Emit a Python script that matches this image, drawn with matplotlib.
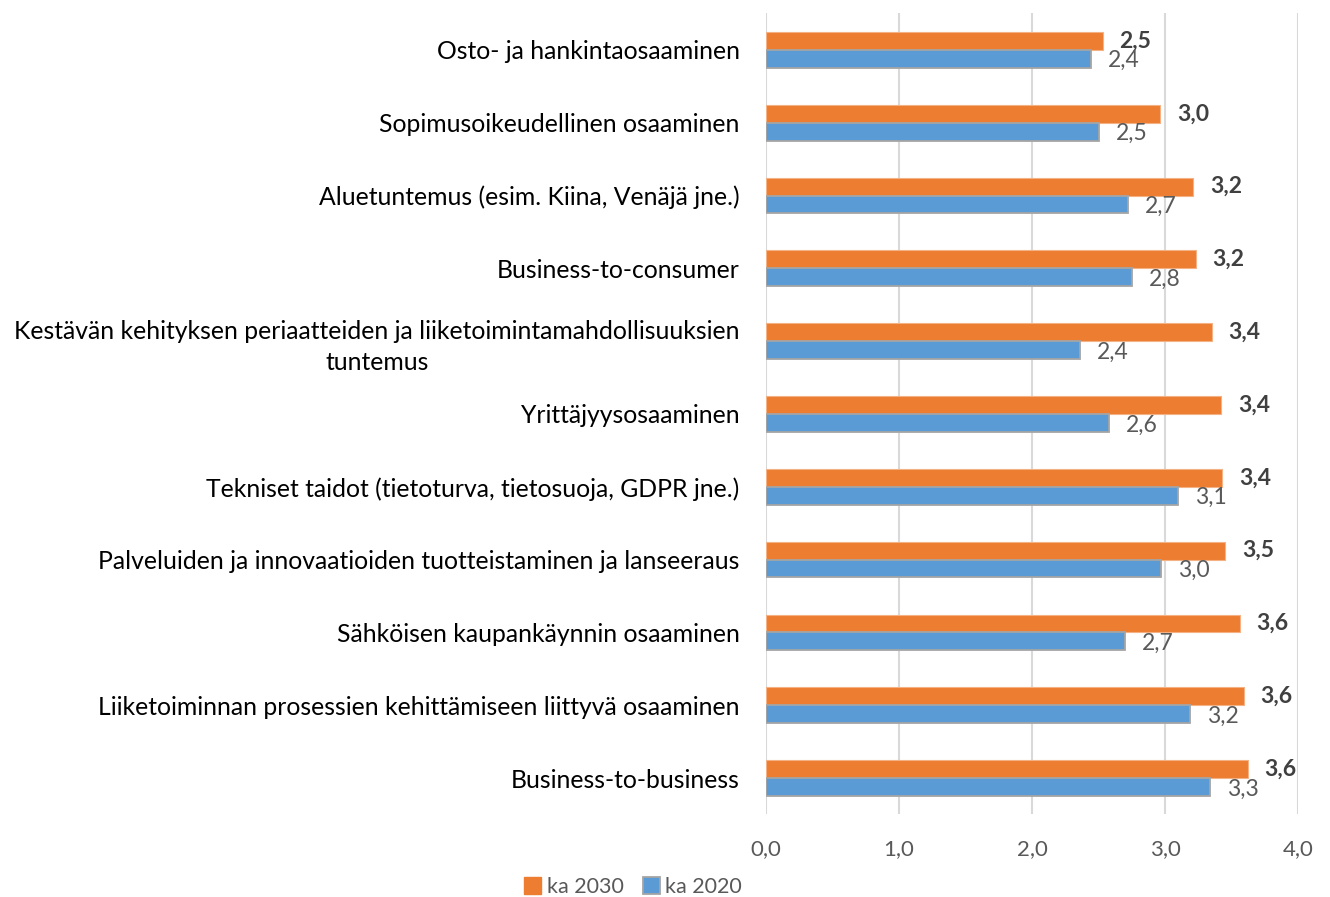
import numpy as np
import matplotlib.pyplot as plt
from matplotlib.patches import Patch

# ---------------- DATA ----------------
categories = [
    "Osto- ja hankintaosaaminen",
    "Sopimusoikeudellinen osaaminen",
    "Aluetuntemus (esim. Kiina, Venäjä jne.)",
    "Business-to-consumer",
    "Kestävän kehityksen periaatteiden ja liiketoimintamahdollisuuksien\ntuntemus",
    "Yrittäjyysosaaminen",
    "Tekniset taidot (tietoturva, tietosuoja, GDPR jne.)",
    "Palveluiden ja innovaatioiden tuotteistaminen ja lanseeraus",
    "Sähköisen kaupankäynnin osaaminen",
    "Liiketoiminnan prosessien kehittämiseen liittyvä osaaminen",
    "Business-to-business",
]
ka_2030 = [2.53, 2.96, 3.21, 3.23, 3.35, 3.42, 3.43, 3.45, 3.56, 3.59, 3.62]
ka_2020 = [2.44, 2.50, 2.72, 2.75, 2.36, 2.58, 3.10, 2.97, 2.70, 3.19, 3.34]
x_ticks = [0, 1, 2, 3, 4]

ORANGE = "#ed7d31"
BLUE = "#5b9bd5"
TXT = "#404040"
GRAY = "#595959"

plt.rcParams["font.family"] = ["Lato", "DejaVu Sans"]

fig = plt.figure(figsize=(13.3, 8.97), dpi=100)
ax = fig.add_axes([0.576, 0.092, 0.4, 0.893])

y = np.arange(len(categories))
h = 0.245

ax.barh(y - h / 2, ka_2030, height=h, color=ORANGE, edgecolor="#f4b183", linewidth=0.8, zorder=3)
ax.barh(y + h / 2, ka_2020, height=h, color=BLUE, edgecolor="#a5a5a5", linewidth=1.3, zorder=3)

# value labels
for i in range(len(categories)):
    ax.annotate(f"{ka_2030[i]:.1f}".replace(".", ","), (ka_2030[i], y[i] - h / 2),
                xytext=(17, 0), textcoords="offset pixels", ha="left", va="center",
                fontsize=16.5, fontweight="bold", color=TXT, zorder=4)
    ax.annotate(f"{ka_2020[i]:.1f}".replace(".", ","), (ka_2020[i], y[i] + h / 2),
                xytext=(17, -2), textcoords="offset pixels", ha="left", va="center",
                fontsize=16.5, color=GRAY, zorder=4)

ax.set_xlim(0, 4)
ax.set_ylim(len(categories) - 0.5, -0.5)
ax.set_xticks(x_ticks)
ax.set_xticklabels([f"{v:.1f}".replace(".", ",") for v in x_ticks], fontsize=16, color=GRAY)
ax.set_yticks(y)
ax.set_yticklabels(categories, fontsize=17.8, color="black", multialignment="center",
                   linespacing=1.4)
ax.tick_params(axis="x", length=0, pad=18)
ax.tick_params(axis="y", length=0, pad=19)

ax.grid(axis="x", color="#d9d9d9", linewidth=1.5, zorder=0)
for s in ax.spines.values():
    s.set_visible(False)

handles = [
    Patch(facecolor=ORANGE, edgecolor=ORANGE, label="ka 2030"),
    Patch(facecolor=BLUE, edgecolor="#a5a5a5", linewidth=1.3, label="ka 2020"),
]
fig.legend(handles=handles, loc="center", bbox_to_anchor=(0.476, 0.011), ncol=2, frameon=False,
           fontsize=15.5, labelcolor=GRAY, handlelength=0.8, handleheight=0.8,
           handletextpad=0.25, columnspacing=0.9)

fig.savefig("out.png", dpi=100)
